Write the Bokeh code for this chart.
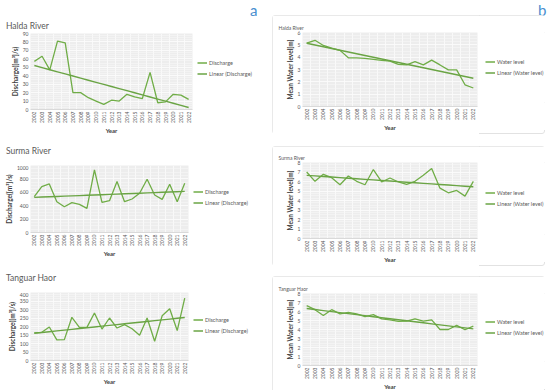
import numpy as np
from bokeh.plotting import figure
from bokeh.models import Legend, LegendItem, FixedTicker, Range1d, Div
from bokeh.layouts import column, row
from bokeh.embed import file_html
from bokeh.resources import INLINE

years = list(range(2002, 2023))
halda_q = [57, 63, 47, 81, 79, 20, 20, 14, 10, 6, 11, 10, 18, 15, 13, 44, 8, 9, 18, 17, 12]
surma_q = [535, 685, 725, 460, 385, 445, 420, 360, 935, 450, 475, 760, 460, 500, 585, 795, 560, 495, 720, 460, 735]
tanguar_q = [162, 166, 197, 121, 123, 254, 195, 195, 279, 185, 250, 191, 211, 187, 148, 250, 113, 263, 304, 176, 367]
halda_wl = [5.13, 5.37, 4.95, 4.74, 4.55, 3.95, 3.95, 3.9, 3.82, 3.74, 3.68, 3.42, 3.37, 3.63, 3.37, 3.76, 3.37, 2.97, 2.97, 1.76, 1.5]
surma_wl = [7.0, 6.02, 6.76, 6.4, 5.66, 6.58, 6.02, 5.66, 7.26, 5.95, 6.37, 5.95, 5.7, 6.02, 6.65, 7.36, 5.3, 4.81, 5.06, 4.46, 6.02]
tanguar_wl = [6.65, 6.2, 5.55, 6.2, 5.73, 5.9, 5.73, 5.44, 5.66, 5.18, 5.07, 4.9, 4.93, 5.18, 4.93, 5.07, 4.0, 4.0, 4.45, 3.97, 4.38]

q_label = "Discharge([m³]/s)"
wl_label = "Mean Water level[m]"
q_names = ["Discharge", "Linear (Discharge)"]
wl_names = ["Water level", "Linear (Water level)"]

GREEN = "#70ad47"
GREEN2 = "#6aa444"
GRAY = "#595959"
BLUE = "#4a8fd0"
FONT = "Lato"


def trend_of(vals):
    coef = np.polyfit(years, vals, 1)
    return [float(coef[0] * yv + coef[1]) for yv in years]


def panel(vals, ymax, ystep, ylabel, names, bl, fw, total_w, bt, fh, bb, lm, dy,
          title=None):
    H = bt + fh + bb
    p = figure(width=bl + fw + 2, height=H, frame_width=fw, frame_height=fh,
               output_backend="svg", toolbar_location=None,
               x_range=Range1d(2001.5, 2022.5), y_range=Range1d(0, ymax),
               min_border_left=bl, min_border_right=2,
               min_border_top=bt, min_border_bottom=bb, margin=0)
    p.outline_line_color = None
    p.background_fill_color = "#ededed"
    p.border_fill_color = "white"
    p.xgrid.ticker = FixedTicker(ticks=[y + 0.5 for y in range(2001, 2023)])
    p.xgrid.grid_line_color = "#fbfbfb"
    p.xgrid.grid_line_width = 0.8
    yt = [float(v) for v in np.arange(0, ymax + ystep / 2, ystep)]
    ym = [float(v) for v in np.arange(0, ymax + 1e-9, ystep / 4)]
    p.yaxis.ticker = FixedTicker(ticks=yt, minor_ticks=ym)
    p.ygrid.grid_line_color = "#fbfbfb"
    p.ygrid.grid_line_width = 0.8
    p.ygrid.minor_grid_line_color = "#f6f6f6"
    p.ygrid.minor_grid_line_width = 0.6
    p.xaxis.ticker = FixedTicker(ticks=years)
    p.xaxis.major_label_orientation = np.pi / 2
    for ax in (p.xaxis, p.yaxis):
        ax.axis_line_color = None
        ax.major_tick_line_color = None
        ax.minor_tick_line_color = None
        ax.major_tick_out = 0
        ax.major_tick_in = 0
        ax.minor_tick_out = 0
        ax.minor_tick_in = 0
        ax.major_label_text_font = FONT
        ax.major_label_text_font_size = "5px"
        ax.major_label_text_color = GRAY
        ax.major_label_standoff = 2
        ax.axis_label_text_font = FONT
        ax.axis_label_text_font_style = "bold"
        ax.axis_label_text_color = "#404040"
        ax.axis_label_standoff = 1
    p.xaxis.axis_line_color = "#d9d9d9"
    p.xaxis.axis_label = "Year"
    p.xaxis.axis_label_text_font_size = "6px"
    p.yaxis.axis_label = ylabel
    p.yaxis.axis_label_text_font_size = "6.5px"

    trend = trend_of(vals)
    p.line(years, vals, line_color=GREEN, line_width=1.3)
    p.line(years, trend, line_color=GREEN2, line_width=1.4)

    if title is not None:
        p.title.text = title
        p.title.align = "left"
        p.title.offset = -(bl - 6)
        p.title.standoff = 3
        p.title.text_font = FONT
        p.title.text_font_size = "5px"
        p.title.text_font_style = "normal"
        p.title.text_color = GRAY

    # legend holder: a small figure whose frame is blank white; the series are
    # drawn outside its visible range so only the legend shows
    lw = total_w - (bl + fw + 2)
    c = bt + fh / 2 + dy
    top = int(max(0, round(2 * c - H)))
    bot = int(max(0, round(H - 2 * c)))
    q = figure(width=lw, height=H, output_backend="svg", toolbar_location=None,
               x_range=Range1d(0, 1), y_range=Range1d(0, 1),
               x_axis_type=None, y_axis_type=None,
               min_border_left=0, min_border_right=0,
               min_border_top=top, min_border_bottom=bot, margin=0)
    q.outline_line_color = None
    q.background_fill_color = "white"
    q.border_fill_color = "white"
    r1 = q.line(years, vals, line_color=GREEN, line_width=1.3)
    r2 = q.line(years, trend, line_color=GREEN2, line_width=1.4)
    leg = Legend(items=[LegendItem(label=names[0], renderers=[r1]),
                        LegendItem(label=names[1], renderers=[r2])],
                 location="center_left", padding=0, margin=lm, spacing=3,
                 glyph_width=10, glyph_height=8, label_standoff=2,
                 label_text_font=FONT, label_text_font_size="5.5px",
                 label_text_color=GRAY, label_height=8,
                 border_line_color=None, background_fill_alpha=0)
    q.add_layout(leg)

    if title is not None:
        box = {"outline": "1px solid #e2e2e2", "outline-offset": "-1px",
               "border-radius": "3px"}
        return row(p, q, spacing=0, margin=0, styles=box)
    return row(p, q, spacing=0, margin=0)


def text_div(html, width, height):
    return Div(text=html, width=width, height=height, margin=0)


def tline(text, size, lh, pl, pt=0, color=GRAY):
    return (f"<div style='font-family:Lato;font-size:{size}px;color:{color};line-height:{lh}px;"
            f"padding-left:{pl}px;padding-top:{pt}px;white-space:nowrap'>{text}</div>")


# left column (272 wide)
topA = text_div(tline("a", 15, 20, 250, 0, BLUE) + tline("Halda River", 8.5, 12, 6), 272, 30)
L1 = panel(halda_q, 90, 10, q_label, q_names, 30, 162, 272, 0, 76, 25, 3, 14)
tL2 = text_div(tline("Surma River", 8.5, 12, 6, 11), 272, 31)
L2 = panel(surma_q, 1000, 200, q_label, q_names, 30, 158, 272, 0, 67, 25, 3, 12)
tL3 = text_div(tline("Tanguar Haor", 8.5, 12, 6, 12), 272, 32)
L3 = panel(tanguar_q, 400, 50, q_label, q_names, 30, 158, 272, 0, 68, 25, 3, 12)

# right column (273 wide)
topB = text_div(tline("b", 15, 20, 266, 0, BLUE), 273, 15)
gap1 = text_div("", 273, 12)
gap2 = text_div("", 273, 10)
R1 = panel(halda_wl, 6, 1, wl_label, wl_names, 30, 175, 273, 17, 74, 24, 6, 12, "Halda River")
R2 = panel(surma_wl, 8, 1, wl_label, wl_names, 30, 175, 273, 16, 76, 24, 6, 11, "Surma River")
R3 = panel(tanguar_wl, 8, 1, wl_label, wl_names, 30, 175, 273, 17, 72, 24, 6, 10, "Tanguar Haor")

left = column(topA, L1, tL2, L2, tL3, L3, spacing=0, margin=0)
right = column(topB, R1, gap1, R2, gap2, R3, spacing=0, margin=0)
layout = row(left, right, spacing=0, margin=0)

open("out.html", "w").write(file_html(layout, INLINE))
